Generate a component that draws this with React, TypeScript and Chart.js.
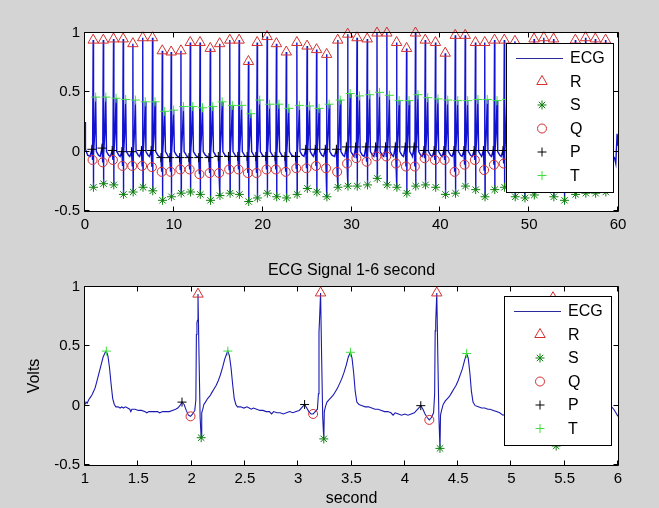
import React, { useEffect, useRef } from 'react';
import { Chart, registerables } from 'chart.js';
import { drawPoint } from 'chart.js/helpers';

Chart.register(...registerables);

// ---------- data ----------
// R-peak times (s) of every beat in the 60 s record
const beatTimes = [0.92, 2.06, 3.21, 4.30, 5.39, 6.5, 7.6, 8.7, 9.7, 10.8, 11.85, 12.95, 14.1, 15.16, 16.3, 17.35, 18.4, 19.38, 20.5, 21.55, 22.66, 23.85, 25.0, 26.07, 27.2, 28.45, 29.57, 30.62, 31.77, 32.87, 33.98, 35.08, 36.2, 37.2, 38.3, 39.45, 40.55, 41.68, 42.8, 43.95, 45.0, 46.1, 47.2, 48.4, 49.5, 50.55, 51.65, 52.75, 53.95, 55.2, 56.35, 57.45, 58.6];
const rValues = [0.94, 0.94, 0.95, 0.95, 0.91, 0.96, 0.96, 0.85, 0.84, 0.85, 0.92, 0.92, 0.87, 0.91, 0.94, 0.94, 0.76, 0.92, 0.97, 0.91, 0.84, 0.92, 0.89, 0.86, 0.82, 0.94, 0.99, 0.96, 0.95, 1.0, 1.0, 0.92, 0.87, 1.0, 0.94, 0.92, 0.83, 0.98, 0.98, 0.92, 0.92, 0.94, 0.94, 0.93, 0.86, 0.95, 0.96, 0.95, 0.86, 0.94, 0.96, 0.95, 0.94];
const sValues = [-0.30, -0.27, -0.28, -0.36, -0.34, -0.30, -0.33, -0.41, -0.38, -0.35, -0.34, -0.36, -0.41, -0.37, -0.35, -0.36, -0.42, -0.39, -0.35, -0.38, -0.39, -0.36, -0.31, -0.34, -0.38, -0.30, -0.29, -0.29, -0.28, -0.225, -0.28, -0.30, -0.35, -0.29, -0.28, -0.30, -0.36, -0.35, -0.29, -0.32, -0.38, -0.32, -0.30, -0.38, -0.39, -0.365, -0.30, -0.38, -0.41, -0.36, -0.35, -0.35, -0.34];
const qValues = [-0.07, -0.09, -0.07, -0.12, -0.12, -0.12, -0.13, -0.17, -0.17, -0.15, -0.15, -0.19, -0.18, -0.18, -0.15, -0.15, -0.18, -0.18, -0.15, -0.15, -0.17, -0.14, -0.14, -0.12, -0.14, -0.17, -0.10, -0.055, -0.085, -0.04, -0.04, -0.10, -0.125, -0.125, -0.055, -0.07, -0.07, -0.17, -0.11, -0.07, -0.155, -0.11, -0.10, -0.085, -0.10, -0.10, -0.10, -0.10, -0.10, -0.10, -0.10, -0.10, -0.10];
const pValues = [0.02, 0.03, 0.01, 0.0, 0.0, 0.01, 0.01, -0.05, -0.05, -0.05, -0.05, -0.05, -0.05, -0.04, -0.04, -0.04, -0.04, -0.04, -0.04, -0.04, -0.04, -0.04, 0.02, 0.02, 0.02, 0.02, 0.04, 0.04, 0.04, 0.04, 0.04, 0.04, 0.04, 0.04, 0.01, 0.01, 0.01, 0.01, 0.01, 0.01, 0.01, 0.01, 0.01, 0, 0, 0, 0, 0, 0, 0, 0, 0, 0];
const tValues = [0.46, 0.46, 0.45, 0.44, 0.435, 0.42, 0.42, 0.34, 0.35, 0.38, 0.38, 0.37, 0.38, 0.42, 0.39, 0.39, 0.32, 0.435, 0.40, 0.40, 0.365, 0.39, 0.385, 0.365, 0.40, 0.435, 0.49, 0.47, 0.48, 0.50, 0.475, 0.43, 0.43, 0.48, 0.455, 0.445, 0.435, 0.43, 0.43, 0.44, 0.44, 0.43, 0.44, 0.44, 0.44, 0.44, 0.44, 0.44, 0.44, 0.44, 0.44, 0.44, 0.44];

// position of the P, Q, S and T waves relative to the R peak (s)
const pOffset = -0.15;
const qOffset = -0.07;
const sOffset = 0.03;
const tOffset = 0.28;
// baseline points of each beat in the 60 s trace: [seconds from R, volts]
const baselineAnchors = [[-0.35, -0.04], [0.05, -0.02], [0.17, 0.15], [0.36, 0.0], [0.6, -0.03]];
const traceStart = [[0, 0.25], [0.05, 0.02], [0.3, -0.03]];
const traceEnd = [[59.6, -0.05], [59.75, -0.1], [59.9, 0.15], [60, 0.05]];

// detailed trace of the 1-6 s window
const zoomTimes = [1.0, 1.01, 1.02, 1.035, 1.05, 1.065, 1.08, 1.095, 1.11, 1.13, 1.15, 1.17, 1.19, 1.2, 1.215, 1.23, 1.245, 1.26, 1.275, 1.29, 1.31, 1.33, 1.345, 1.36, 1.38, 1.4, 1.42, 1.43, 1.44, 1.47, 1.5, 1.53, 1.56, 1.58, 1.6, 1.64, 1.68, 1.7, 1.73, 1.76, 1.79, 1.82, 1.85, 1.87, 1.89, 1.91, 1.93, 1.95, 1.97, 1.99, 2.01, 2.03, 2.04, 2.045, 2.05, 2.055, 2.06, 2.07, 2.08, 2.09, 2.095, 2.105, 2.115, 2.13, 2.15, 2.17, 2.19, 2.21, 2.23, 2.25, 2.27, 2.29, 2.31, 2.33, 2.34, 2.355, 2.37, 2.385, 2.4, 2.415, 2.43, 2.46, 2.49, 2.52, 2.54, 2.56, 2.58, 2.61, 2.64, 2.67, 2.7, 2.73, 2.75, 2.77, 2.8, 2.83, 2.86, 2.89, 2.92, 2.95, 2.98, 3.01, 3.04, 3.06, 3.08, 3.1, 3.12, 3.14, 3.16, 3.18, 3.19, 3.195, 3.2, 3.21, 3.22, 3.23, 3.24, 3.245, 3.255, 3.27, 3.29, 3.31, 3.33, 3.35, 3.37, 3.39, 3.41, 3.43, 3.45, 3.47, 3.49, 3.505, 3.52, 3.535, 3.55, 3.57, 3.6, 3.63, 3.66, 3.69, 3.72, 3.75, 3.78, 3.81, 3.84, 3.87, 3.89, 3.91, 3.94, 3.97, 4.0, 4.03, 4.06, 4.09, 4.11, 4.13, 4.15, 4.17, 4.19, 4.21, 4.23, 4.25, 4.27, 4.28, 4.285, 4.29, 4.3, 4.31, 4.32, 4.33, 4.335, 4.345, 4.36, 4.38, 4.4, 4.42, 4.44, 4.46, 4.48, 4.5, 4.52, 4.54, 4.56, 4.58, 4.595, 4.61, 4.625, 4.64, 4.66, 4.69, 4.72, 4.75, 4.78, 4.8, 4.83, 4.86, 4.89, 4.92, 4.95, 4.98, 5.02, 5.06, 5.1, 5.14, 5.18, 5.21, 5.24, 5.26, 5.28, 5.3, 5.32, 5.34, 5.36, 5.37, 5.375, 5.38, 5.39, 5.4, 5.41, 5.42, 5.425, 5.435, 5.45, 5.48, 5.51, 5.54, 5.57, 5.6, 5.63, 5.65, 5.67, 5.685, 5.7, 5.715, 5.73, 5.76, 5.8, 5.84, 5.88, 5.92, 5.94, 5.96, 5.98, 6.0];
const zoomVolts = [0.01, 0.03, 0.02, 0.05, 0.07, 0.09, 0.12, 0.15, 0.2, 0.27, 0.34, 0.41, 0.45, 0.46, 0.42, 0.32, 0.18, 0.06, 0.01, -0.01, -0.01, -0.02, -0.01, -0.02, -0.01, -0.02, -0.03, -0.05, -0.03, -0.03, -0.04, -0.04, -0.05, -0.06, -0.05, -0.05, -0.05, -0.06, -0.05, -0.05, -0.05, -0.04, -0.03, -0.02, 0.0, 0.03, 0.01, -0.04, -0.08, -0.09, -0.07, -0.04, 0.05, 0.6, 0.7, 0.72, 0.94, 0.4, -0.1, -0.27, -0.06, -0.03, 0.01, 0.03, 0.06, 0.08, 0.11, 0.14, 0.17, 0.21, 0.26, 0.32, 0.39, 0.44, 0.46, 0.42, 0.32, 0.18, 0.06, 0.01, -0.01, -0.01, -0.02, -0.01, -0.02, -0.03, -0.02, -0.03, -0.04, -0.04, -0.05, -0.05, -0.07, -0.05, -0.06, -0.06, -0.07, -0.06, -0.05, -0.06, -0.05, -0.04, -0.01, 0.01, -0.02, -0.05, -0.07, -0.07, -0.05, -0.03, 0.1, 0.62, 0.72, 0.95, 0.4, -0.1, -0.28, -0.05, -0.01, 0.03, 0.05, 0.07, 0.09, 0.12, 0.15, 0.19, 0.23, 0.28, 0.34, 0.41, 0.45, 0.4, 0.28, 0.12, 0.03, 0.01, 0.0, -0.01, -0.01, -0.02, -0.03, -0.03, -0.04, -0.05, -0.05, -0.06, -0.08, -0.06, -0.07, -0.08, -0.07, -0.08, -0.07, -0.06, -0.04, -0.02, 0.0, -0.03, -0.07, -0.1, -0.12, -0.1, -0.06, 0.1, 0.63, 0.7, 0.95, 0.4, -0.1, -0.36, -0.08, -0.04, 0.01, 0.04, 0.06, 0.08, 0.11, 0.14, 0.17, 0.21, 0.26, 0.31, 0.38, 0.44, 0.4, 0.28, 0.12, 0.03, 0.0, -0.01, -0.02, -0.02, -0.03, -0.03, -0.04, -0.05, -0.06, -0.08, -0.07, -0.07, -0.06, -0.06, -0.05, -0.05, -0.04, -0.02, 0.0, -0.03, -0.07, -0.1, -0.12, -0.09, -0.05, 0.1, 0.6, 0.7, 0.91, 0.4, -0.1, -0.34, -0.06, -0.02, 0.02, 0.05, 0.08, 0.12, 0.16, 0.22, 0.3, 0.37, 0.435, 0.38, 0.26, 0.1, 0.02, 0.0, -0.01, -0.02, -0.03, -0.02, -0.01, -0.03, -0.06, -0.09];

// axes
const topXTicks = [0, 10, 20, 30, 40, 50, 60];
const bottomXTicks = [1, 1.5, 2, 2.5, 3, 3.5, 4, 4.5, 5, 5.5, 6];
const yTicks = [-0.5, 0, 0.5, 1];
const legendLabels = ['ECG', 'R', 'S', 'Q', 'P', 'T'];
const bottomTitle = 'ECG Signal 1-6 second';
const yAxisLabel = 'Volts';
const xAxisLabel = 'second';

const FONT = '"Liberation Sans", Arial, Helvetica, sans-serif';

type Pt = { x: number; y: number };

function buildFullTrace(): Pt[] {
  const pts: Pt[] = [];
  traceStart.forEach(([x, y]) => pts.push({ x, y }));
  beatTimes.forEach((r, i) => {
    pts.push({ x: r + pOffset, y: pValues[i] });
    pts.push({ x: r + qOffset, y: qValues[i] });
    pts.push({ x: r, y: rValues[i] });
    pts.push({ x: r + sOffset, y: sValues[i] });
    pts.push({ x: r + tOffset, y: tValues[i] });
    baselineAnchors.forEach(([dt, v]) => pts.push({ x: r + dt, y: v }));
  });
  traceEnd.forEach(([x, y]) => pts.push({ x, y }));
  pts.sort((a, b) => a.x - b.x);
  return pts;
}

function markerPoints(offset: number, values: number[], lo: number, hi: number): Pt[] {
  const out: Pt[] = [];
  beatTimes.forEach((r, i) => {
    const x = r + offset;
    if (x >= lo && x <= hi) out.push({ x, y: values[i] });
  });
  return out;
}

function makeDatasets(trace: Pt[], lo: number, hi: number, lineColor: string, lineWidth: number) {
  const marker = (label: string, data: Pt[], style: string, color: string, radius: number, order: number) => ({
    label,
    data,
    showLine: false,
    pointStyle: style,
    pointRadius: radius,
    pointHoverRadius: radius,
    pointBorderColor: color,
    pointBackgroundColor: 'rgba(0,0,0,0)',
    pointBorderWidth: 1,
    borderColor: color,
    backgroundColor: 'rgba(0,0,0,0)',
    clip: false,
    order,
  });
  return [
    {
      label: legendLabels[0],
      data: trace,
      showLine: true,
      borderColor: lineColor,
      borderWidth: lineWidth,
      pointRadius: 0,
      pointHoverRadius: 0,
      tension: 0,
      order: 6,
    },
    marker(legendLabels[1], markerPoints(0, rValues, lo, hi), 'triangle', '#d43030', 6, 5),
    marker(legendLabels[2], markerPoints(sOffset, sValues, lo, hi), 'star', '#0c800c', 4.5, 4),
    marker(legendLabels[3], markerPoints(qOffset, qValues, lo, hi), 'circle', '#d43030', 4.5, 3),
    marker(legendLabels[4], markerPoints(pOffset, pValues, lo, hi), 'cross', '#000000', 4.5, 2),
    marker(legendLabels[5], markerPoints(tOffset, tValues, lo, hi), 'cross', '#3ede3e', 4.5, 1),
  ];
}

const framePlugin = {
  id: 'matlabFrame',
  beforeDraw(chart: any) {
    const { ctx, chartArea: a } = chart;
    ctx.save();
    ctx.fillStyle = '#ffffff';
    ctx.fillRect(a.left, a.top, a.right - a.left, a.bottom - a.top);
    ctx.restore();
  },
  afterDatasetsDraw(chart: any, _args: any, opts: any) {
    const { ctx, chartArea: a, scales } = chart;
    ctx.save();
    ctx.strokeStyle = '#000';
    ctx.lineWidth = 1;
    const L = a.left - 0.5, R = a.right + 0.5, T = a.top - 0.5, B = a.bottom + 0.5;
    ctx.beginPath();
    ctx.rect(L, T, R - L, B - T);
    const len = 5;
    scales.x.ticks.forEach((t: any) => {
      const px = Math.round(scales.x.getPixelForValue(t.value)) - 0.5;
      ctx.moveTo(px, B); ctx.lineTo(px, B - len);
      ctx.moveTo(px, T); ctx.lineTo(px, T + len);
    });
    scales.y.ticks.forEach((t: any) => {
      const py = Math.round(scales.y.getPixelForValue(t.value)) - 0.5;
      ctx.moveTo(L, py); ctx.lineTo(L + len, py);
      ctx.moveTo(R, py); ctx.lineTo(R - len, py);
    });
    ctx.stroke();
    if (opts && opts.title) {
      ctx.fillStyle = '#000';
      ctx.font = `16px ${FONT}`;
      ctx.textAlign = 'center';
      ctx.textBaseline = 'alphabetic';
      ctx.fillText(opts.title, (a.left + a.right) / 2, a.top - 12);
    }
    ctx.restore();
  },
};

const legendPlugin = {
  id: 'matlabLegend',
  afterDraw(chart: any, _args: any, opts: any) {
    const { ctx, chartArea: a } = chart;
    const w = opts.width, h = opts.height;
    const x0 = Math.round(a.right - opts.right - w);
    const y0 = Math.round(a.top + opts.top);
    ctx.save();
    ctx.fillStyle = '#fff';
    ctx.fillRect(x0, y0, w, h);
    ctx.strokeStyle = '#000';
    ctx.lineWidth = 1;
    ctx.strokeRect(x0 + 0.5, y0 + 0.5, w, h);
    chart.data.datasets.forEach((ds: any, i: number) => {
      const y = y0 + opts.firstRow + i * opts.rowGap;
      if (ds.showLine) {
        ctx.strokeStyle = opts.lineColor;
        ctx.lineWidth = 1;
        ctx.beginPath();
        ctx.moveTo(x0 + 10, Math.round(y) + 0.5);
        ctx.lineTo(x0 + 57, Math.round(y) + 0.5);
        ctx.stroke();
      } else {
        ctx.strokeStyle = ds.pointBorderColor;
        ctx.fillStyle = 'rgba(0,0,0,0)';
        ctx.lineWidth = ds.pointBorderWidth;
        drawPoint(ctx, { pointStyle: ds.pointStyle, radius: ds.pointRadius, rotation: 0, borderWidth: ds.pointBorderWidth } as any, x0 + 36, y);
      }
      ctx.fillStyle = '#000';
      ctx.font = `16px ${FONT}`;
      ctx.textAlign = 'left';
      ctx.textBaseline = 'middle';
      ctx.fillText(ds.label, x0 + 64, y + 1);
    });
    ctx.restore();
  },
};

const LEGEND_LINE = '#2a2a9c';

function makeConfig(opts: {
  trace: Pt[]; lo: number; hi: number; xTicks: number[]; title?: string; labels: boolean;
  legend: { right: number; top: number }; lineColor: string; lineWidth: number;
}): any {
  return {
    type: 'scatter',
    data: { datasets: makeDatasets(opts.trace, opts.lo, opts.hi, opts.lineColor, opts.lineWidth) },
    plugins: [framePlugin, legendPlugin],
    options: {
      animation: false,
      responsive: false,
      devicePixelRatio: 1,
      events: [],
      layout: { padding: { left: 0, right: 41, top: 33, bottom: 0 } },
      plugins: {
        legend: { display: false },
        tooltip: { enabled: false },
        title: { display: false },
        matlabFrame: { title: opts.title },
        matlabLegend: { width: 107, height: 149, right: opts.legend.right, top: opts.legend.top, firstRow: 15, rowGap: 23.5, lineColor: LEGEND_LINE },
      },
      scales: {
        x: {
          type: 'linear',
          position: 'bottom',
          min: opts.lo,
          max: opts.hi,
          afterBuildTicks: (s: any) => { s.ticks = opts.xTicks.map((v) => ({ value: v })); },
          afterFit: (s: any) => { s.height = 43; },
          grid: { display: false, drawTicks: false },
          border: { display: false },
          ticks: {
            color: '#000', padding: 5, maxRotation: 0, minRotation: 0, autoSkip: false,
            font: { family: FONT, size: 15 },
            callback: (v: any) => String(v),
          },
          title: {
            display: opts.labels, text: xAxisLabel, color: '#000',
            font: { family: FONT, size: 16, lineHeight: 1 }, padding: { top: 0, bottom: 1 },
          },
        },
        y: {
          type: 'linear',
          position: 'left',
          min: -0.5,
          max: 1,
          afterBuildTicks: (s: any) => { s.ticks = yTicks.map((v) => ({ value: v })); },
          afterFit: (s: any) => { s.width = 85; },
          grid: { display: false, drawTicks: false },
          border: { display: false },
          ticks: {
            color: '#000', padding: 5,
            font: { family: FONT, size: 15 },
            callback: (v: any) => String(v),
          },
          title: {
            display: opts.labels, text: yAxisLabel, color: '#000',
            font: { family: FONT, size: 16 }, padding: { top: 25, bottom: 0 },
          },
        },
      },
    },
  };
}

export default function App() {
  const topRef = useRef<HTMLCanvasElement>(null);
  const bottomRef = useRef<HTMLCanvasElement>(null);

  useEffect(() => {
    const fullTrace = buildFullTrace();
    const zoomTrace: Pt[] = zoomTimes.map((t, i) => ({ x: t, y: zoomVolts[i] }));
    const top = new Chart(topRef.current as HTMLCanvasElement, makeConfig({
      trace: fullTrace, lo: 0, hi: 60, xTicks: topXTicks, labels: false,
      legend: { right: 5, top: 10 }, lineColor: '#1212d0', lineWidth: 1.4,
    }));
    const bottom = new Chart(bottomRef.current as HTMLCanvasElement, makeConfig({
      trace: zoomTrace, lo: 1, hi: 6, xTicks: bottomXTicks, title: bottomTitle, labels: true,
      legend: { right: 7, top: 9 }, lineColor: '#1a1ab0', lineWidth: 1.1,
    }));
    return () => { top.destroy(); bottom.destroy(); };
  }, []);

  return (
    <div style={{ position: 'fixed', left: 0, top: 0, width: 659, height: 508, background: '#d4d4d4', overflow: 'hidden' }}>
      <canvas ref={topRef} width={659} height={254} style={{ position: 'absolute', left: 0, top: 0, width: 659, height: 254 }} />
      <canvas ref={bottomRef} width={659} height={254} style={{ position: 'absolute', left: 0, top: 254, width: 659, height: 254 }} />
    </div>
  );
}
